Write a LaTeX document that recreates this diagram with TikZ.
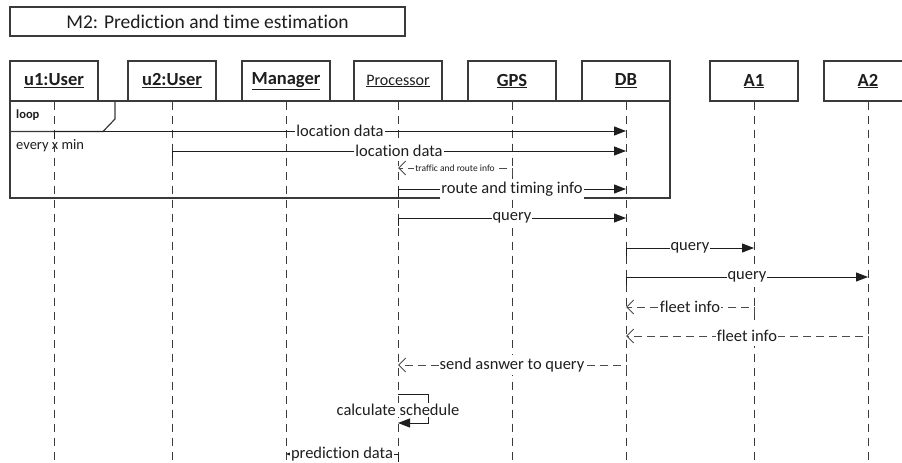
\documentclass[tikz,border=0pt]{standalone}
\usepackage{fontspec}
\setmainfont{Carlito}[Ligatures={NoCommon}]
\usetikzlibrary{arrows.meta,calc}

\definecolor{edge}{HTML}{3A3A3A}
\definecolor{ink}{HTML}{1E1E1E}

\newcommand\fs[1]{\fontsize{#1}{#1}\selectfont}

\tikzset{
  titlebox/.style={draw=edge, line width=1.2pt, minimum width=395pt, minimum height=29pt,
                   inner sep=0pt, font=\fs{19.5}, text=ink},
  lifebox/.style={draw=edge, line width=1.2pt, fill=white, minimum width=88pt,
                  minimum height=40pt, inner sep=0pt, font=\fs{18.5}\bfseries, text=ink},
  lifeline/.style={draw=edge, line width=1pt, dash pattern=on 8pt off 6pt},
  framebox/.style={draw=edge, line width=1.2pt},
  msg/.style={draw=ink, line width=1pt, -{Triangle[length=12pt,width=9pt]}},
  ret/.style={draw=ink!80, line width=1pt, dash pattern=on 8pt off 5pt,
              -{Straight Barb[length=7pt,width=14pt]}},
  lbl/.style={fill=white, inner sep=1pt, minimum height=20pt, font=\fs{16.5}, text=ink},
  tinylbl/.style={fill=white, inner sep=1pt, font=\fs{9.5}, text=ink},
}

\begin{document}
\begin{tikzpicture}[x=1pt, y=-1pt]
  \useasboundingbox (0,0) rectangle (902,463);
  \clip (0,0) rectangle (902,463);
  \fill[white] (0,0) rectangle (902,463);

  % heading
  \node[titlebox] (title) at (207.5,21.5) {M2: Prediction and time estimation};

  % participants
  \node[lifebox] (u1)   at (54,81)  {\underline{u1:User}};
  \node[lifebox] (u2)   at (172,81) {\underline{u2:User}};
  \node[lifebox] (man)  at (286,81) {\underline{Manager}};
  \node[lifebox, font=\fs{16}] (proc) at (398,81) {\underline{Processor}};
  \node[lifebox] (gps)  at (512,81) {\underline{GPS}};
  \node[lifebox] (db)   at (626,81) {\underline{DB}};
  \node[lifebox] (a1)   at (754,81) {\underline{A1}};
  \node[lifebox] (a2)   at (868,81) {\underline{A2}};

  % guard text of the loop fragment (lifelines run across it)
  \node[anchor=west, inner sep=0pt, font=\fs{14.5}, text=ink] (guard) at (16,146) {every x min};

  % lifelines
  \coordinate (bottom) at (0,470);
  \foreach \p in {u1,u2,man,proc,gps,db,a1,a2}
    \draw[lifeline] (\p.south) -- (\p.south |- bottom);

  % loop fragment
  \coordinate (fTL) at (10,101);
  \coordinate (fBR) at (670,198);
  \draw[framebox] (fTL) rectangle (fBR);
  \coordinate (tabA) at (115,101);
  \coordinate (tabB) at (115,119);
  \coordinate (tabC) at (103,131.5);
  \coordinate (tabD) at (10,131.5);
  \draw[framebox] (tabA) -- (tabB) -- (tabC) -- (tabD);
  \node[anchor=west, inner sep=0pt, font=\fs{12.5}\bfseries, text=ink] (looplbl) at (16,115) {loop};

  % message rows
  \coordinate (r1)  at (0,131);
  \coordinate (r2)  at (0,151);
  \coordinate (r3)  at (0,168);
  \coordinate (r4)  at (0,189);
  \coordinate (r5)  at (0,218);
  \coordinate (r6)  at (0,248);
  \coordinate (r7)  at (0,277);
  \coordinate (r8)  at (0,307);
  \coordinate (r9)  at (0,336);
  \coordinate (r10) at (0,365);
  \coordinate (r11) at (0,394);
  \coordinate (r11m) at (0,410);
  \coordinate (r11b) at (0,423);
  \coordinate (r12) at (0,454);

  \draw[msg] ($(u1|-r1)+(0,8)$) -- (u1|-r1) -- (db|-r1) node[lbl, midway] {location data};
  \draw[msg] ($(u2|-r2)+(0,8)$) -- (u2|-r2) -- (db|-r2) node[lbl, midway] {location data};
  \draw[ret] ($(gps|-r3)+(0,8)$) -- (gps|-r3) -- (proc|-r3) node[tinylbl, midway] {traffic and route info};
  \draw[msg] ($(proc|-r4)+(0,8)$) -- (proc|-r4) -- (db|-r4) node[lbl, midway] {route and timing info};
  \draw[msg] ($(proc|-r5)+(0,8)$) -- (proc|-r5) -- (db|-r5) node[lbl, midway] {query};
  \draw[msg] ($(db|-r6)+(0,8)$) -- (db|-r6) -- (a1|-r6) node[lbl, midway] {query};
  \draw[msg] ($(db|-r7)+(0,8)$) -- (db|-r7) -- (a2|-r7) node[lbl, midway] {query};
  \draw[ret] ($(a1|-r8)+(0,8)$) -- (a1|-r8) -- (db|-r8) node[lbl, midway] {fleet info};
  \draw[ret] ($(a2|-r9)+(0,8)$) -- (a2|-r9) -- (db|-r9) node[lbl, midway] {fleet info};
  \draw[ret] ($(db|-r10)+(0,8)$) -- (db|-r10) -- (proc|-r10) node[lbl, midway] {send asnwer to query};

  % self call on the processor
  \draw[msg] (proc|-r11) -- ($(proc|-r11)+(30,0)$) -- ($(proc|-r11b)+(30,0)$) -- (proc|-r11b);
  \node[lbl, minimum height=0pt] (calc) at (proc|-r11m) {calculate schedule};

  \draw[msg] ($(proc|-r12)+(0,8)$) -- (proc|-r12) -- (man|-r12) node[lbl, midway] {prediction data};
\end{tikzpicture}
\end{document}
